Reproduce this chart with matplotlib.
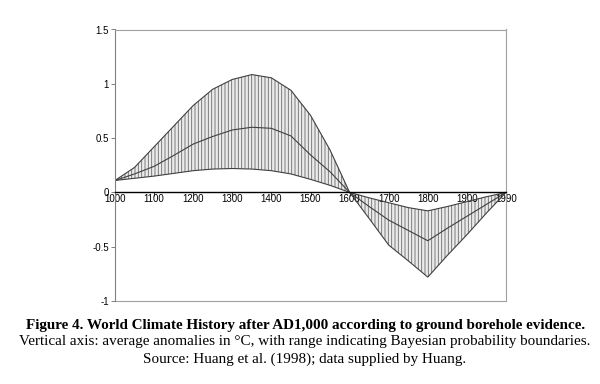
import numpy as np
import matplotlib.pyplot as plt

# categories (Excel-style category axis, every 2nd one labelled)
years = [1000, 1050, 1100, 1150, 1200, 1250, 1300, 1350, 1400, 1450, 1500,
         1550, 1600, 1650, 1700, 1750, 1800, 1850, 1900, 1950, 1990]
upper = [0.11, 0.23, 0.42, 0.61, 0.80, 0.95, 1.04, 1.085, 1.055, 0.94, 0.71,
         0.39, 0.0, -0.05, -0.095, -0.14, -0.17, -0.13, -0.085, -0.04, 0.0]
middle = [0.11, 0.17, 0.24, 0.34, 0.445, 0.515, 0.575, 0.60, 0.59, 0.52, 0.345,
          0.19, 0.0, -0.13, -0.255, -0.35, -0.445, -0.33, -0.22, -0.11, 0.0]
lower = [0.11, 0.13, 0.15, 0.175, 0.20, 0.215, 0.22, 0.215, 0.20, 0.17, 0.12,
         0.065, 0.0, -0.24, -0.485, -0.63, -0.78, -0.58, -0.39, -0.19, 0.0]
yticks = [-1, -0.5, 0, 0.5, 1, 1.5]
ytick_labels = ["-1", "-0.5", "0", "0.5", "1", "1.5"]

plt.rcParams['hatch.linewidth'] = 0.6

fig = plt.figure(figsize=(6, 3.84), dpi=100)
ax = fig.add_axes([115 / 600, 1 - 301 / 384, 391 / 600, 271.5 / 384])

x = np.arange(len(years))
ax.fill_between(x, lower, upper, facecolor='#ebebeb', edgecolor='#6a6a6a',
                hatch='|||||', linewidth=0)
for s in (upper, middle, lower):
    ax.plot(x, s, color='#404040', lw=0.8)

ax.set_xlim(0, len(years) - 1)
ax.set_ylim(-1, 1.5)

# x axis crosses at zero
ax.spines['bottom'].set_position(('data', 0))
ax.spines['bottom'].set_color('black')
ax.spines['bottom'].set_linewidth(1.0)
ax.spines['left'].set_color('#808080')
for side in ('top', 'right'):
    ax.spines[side].set_color('#a0a0a0')
    ax.spines[side].set_linewidth(0.8)
ax.axhline(-1, color='#a0a0a0', lw=0.8, clip_on=False)

ax.set_xticks(x[::2])
ax.set_xticklabels([str(y) for y in years[::2]])
ax.set_yticks(yticks)
ax.set_yticklabels(ytick_labels)
ax.tick_params(axis='x', direction='out', length=3, width=0.7, pad=-1.5,
               labelsize=7, colors='black')
ax.tick_params(axis='y', direction='out', length=3, width=0.7, pad=1.5,
               labelsize=7, colors='black')
ax.tick_params(axis='y', color='#808080')
ax.tick_params(axis='x', color='#404040')
for lab in ax.get_xticklabels() + ax.get_yticklabels():
    lab.set_family('Liberation Sans')

cap = dict(ha='center', va='center', family='Liberation Serif', fontsize=10.9)
fig.text(306 / 600, 1 - 325 / 384,
         "Figure 4. World Climate History after AD1,000 according to ground borehole evidence.",
         fontweight='bold', **cap)
fig.text(305 / 600, 1 - 342 / 384,
         "Vertical axis: average anomalies in \u00b0C, with range indicating Bayesian probability boundaries.",
         **cap)
fig.text(305 / 600, 1 - 359 / 384,
         "Source: Huang et al. (1998); data supplied by Huang.", **cap)

fig.savefig("out.png", dpi=100)
